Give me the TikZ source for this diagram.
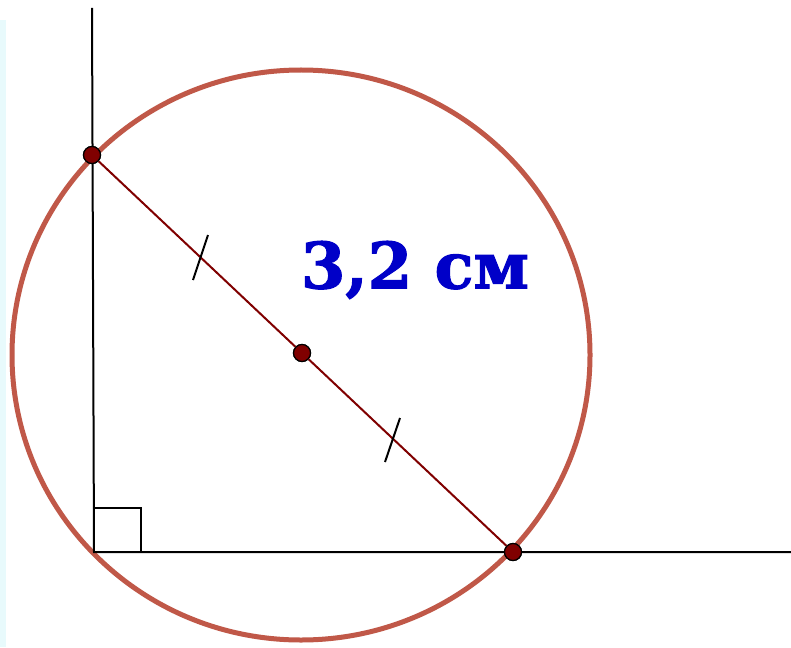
\documentclass[tikz,border=0pt]{standalone}
\usepackage{fontspec}
\newfontfamily\labfont[BoldFeatures={FakeBold=1.6}]{DejaVu Serif}
\definecolor{circ}{RGB}{192,88,72}
\definecolor{seg}{RGB}{128,0,0}
\definecolor{lab}{RGB}{0,0,200}
\definecolor{edge}{RGB}{232,250,252}
\tikzset{
  pt/.style={circle,draw=black,fill=seg,line width=1.2pt,inner sep=0pt,minimum size=17pt},
  axis/.style={black,line width=2pt},
  tick/.style={black,line width=2pt},
}
\begin{document}
\begin{tikzpicture}[x=1pt,y=-1pt]
\useasboundingbox (0,0) rectangle (791,647);
\fill[white] (0,0) rectangle (791,647);
\fill[edge] (0,20) rectangle (6,647);
\draw[circ,line width=5pt] (301,355) ellipse [x radius=289, y radius=285];
\coordinate (top) at (92,8);
\coordinate (O) at (94,552);
\coordinate (R) at (791,552);
\draw[axis] (top) -- (O) -- (R);
\draw[black,line width=1.6pt] (94,508) -- (141,508) -- (141,552);
\node[pt] (A) at (92,155) {};
\node[pt] (B) at (513,552) {};
\node[pt] (M) at (302,353) {};
\draw[seg,line width=2pt] (A) -- (M) -- (B);
\node[pt] at (A) {};
\node[pt] at (B) {};
\node[pt] at (M) {};
\draw[tick] (193,280) -- (208,235);
\draw[tick] (385,462) -- (400,418);
\node[text=lab,font=\labfont\bfseries\fontsize{64}{70}\selectfont] (L) at (415,270) {3,2 см};
\end{tikzpicture}
\end{document}
